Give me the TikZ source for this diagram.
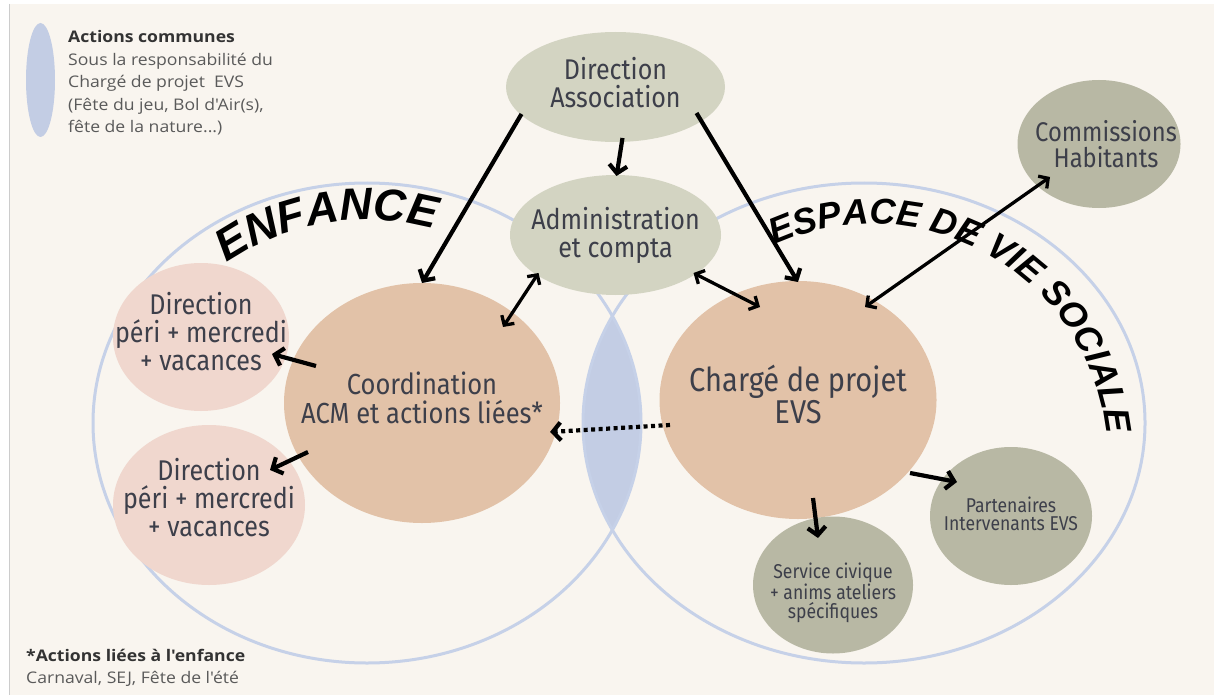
\documentclass[tikz,border=0pt]{standalone}
\usepackage{fontspec}
\setmainfont{Fira Sans}[FakeStretch=0.88]
\newfontfamily\legendfont{Open Sans}[FakeStretch=1.1]
\newfontfamily\titlefont{Liberation Sans}
\usetikzlibrary{shapes.geometric,arrows.meta,decorations.text,calc}
\definecolor{bg}{HTML}{F9F5EF}
\definecolor{ring}{HTML}{C6D1E8}
\definecolor{lens}{HTML}{C3CDE4}
\definecolor{sage}{HTML}{D3D4C2}
\definecolor{olive}{HTML}{B8B8A4}
\definecolor{tan}{HTML}{E2C2A8}
\definecolor{rose}{HTML}{F0D7CE}
\definecolor{txt}{HTML}{3D3F4A}
\definecolor{legtitle}{HTML}{333333}
\definecolor{legbody}{HTML}{5A5A5A}
\tikzset{
  bubble/.style={ellipse, inner sep=0pt},
  lbl/.style={inner sep=0pt, text=txt, align=center},
  bigfont/.style={font=\fontsize{28.5}{28}\selectfont},
  hugefont/.style={font=\fontsize{33}{32}\selectfont},
  smallfont/.style={font=\fontsize{20}{18.5}\selectfont},
  arr/.style={line width=4.2pt, -{Straight Barb[length=8pt,width=18pt]}},
  darr/.style={line width=3.3pt, {Straight Barb[length=7pt,width=15pt]}-{Straight Barb[length=7pt,width=15pt]}},
  dotarr/.style={line width=4.2pt, dash pattern=on 4pt off 3.5pt, -{Straight Barb[length=8pt,width=18pt]}},
  ringline/.style={draw=ring, line width=3pt},
  legt/.style={anchor=base west, inner sep=0pt, text=legtitle, font=\legendfont\bfseries\fontsize{16}{18}\selectfont},
  legb/.style={anchor=base west, inner sep=0pt, text=legbody, font=\legendfont\fontsize{16}{18}\selectfont},
}
\begin{document}
\begin{tikzpicture}[x=1pt,y=-1pt]
\useasboundingbox (0,0) rectangle (1214,695);
\fill[white] (0,0) rectangle (1214,695);
\fill[bg] (9,4) rectangle (1214,695);
\draw[black!20, line width=1pt] (9,4) -- (9,695);

% big sets
\coordinate (LE) at (367,423);
\coordinate (RE) at (864,423);
\begin{scope}
  \clip (LE) ellipse [x radius=274pt, y radius=240pt];
  \fill[lens] (RE) ellipse [x radius=281pt, y radius=240pt];
\end{scope}
\draw[ringline] (LE) ellipse [x radius=274pt, y radius=240pt];
\draw[ringline] (RE) ellipse [x radius=281pt, y radius=240pt];

% curved titles
\path[decorate, decoration={text along path, text align=left,
  text={|\titlefont\fontsize{45}{45}\selectfont\bfseries\itshape|ENFANCE}}]
  (LE) ++(128:228pt and 203pt) arc [start angle=128, end angle=58, x radius=228pt, y radius=203pt];
\coordinate (EC) at (872,460);
\path[decorate, decoration={text along path, text align=left,
  text={|\titlefont\fontsize{36}{36}\selectfont\bfseries\itshape|ESPACE DE VIE SOCIALE}}]
  (EC) ++(114.5:236pt) arc [start angle=114.5, end angle=-12, radius=236pt];

% legend
\node[fill=lens, ellipse, minimum width=29pt, minimum height=114pt, inner sep=0pt] (leg) at (40.5,80) {};
\node[legt] (l1) at (68,43) {Actions communes};
\node[legb] (l2) at (68,65.5) {Sous la responsabilité du};
\node[legb] (l3) at (68,88) {Chargé de projet\ \ EVS};
\node[legb] (l4) at (68,110.5) {(Fête du jeu, Bol d'Air(s),};
\node[legb] (l5) at (68,133) {fête de la nature...)};
\node[legt] (b1) at (26,661) {*Actions liées à l'enfance};
\node[legb] (b2) at (26,683) {Carnaval, SEJ, Fête de l'été};

% bubbles
\node[bubble, fill=sage, minimum width=219pt, minimum height=110pt] (DA) at (615.5,87) {};
\node[bubble, fill=sage, minimum width=211pt, minimum height=120pt] (AD) at (615.5,235) {};
\node[bubble, fill=olive, minimum width=163pt, minimum height=128pt] (CO) at (1099,144) {};
\node[bubble, fill=tan, minimum width=276pt, minimum height=240pt] (CD) at (422,403) {};
\node[bubble, fill=tan, minimum width=277pt, minimum height=238pt] (CH) at (798,400) {};
\node[bubble, fill=rose, minimum width=176pt, minimum height=148pt] (D1) at (201,337) {};
\node[bubble, fill=rose, minimum width=192pt, minimum height=160pt] (D2) at (209,505) {};
\node[bubble, fill=olive, minimum width=160pt, minimum height=137pt] (SC) at (833,585) {};
\node[bubble, fill=olive, minimum width=162pt, minimum height=138pt] (PA) at (1011,516) {};

% bubble texts
\node[lbl, bigfont] (DAt) at ($(DA)+(0,-4)$) {Direction\\Association};
\node[lbl, bigfont] (ADt) at ($(AD)+(0,0)$) {Administration\\et compta};
\node[lbl, font=\fontsize{27}{26}\selectfont] (COt) at ($(CO)+(7,0)$) {Commissions\\Habitants};
\node[lbl, font=\fontsize{29}{29}\selectfont] (CDt) at ($(CD)+(0,-5)$) {Coordination\\ACM et actions liées*};
\node[lbl, hugefont] (CHt) at ($(CH)+(0,-6)$) {Chargé de projet\\EVS};
\node[lbl, bigfont] (D1t) at ($(D1)+(0,-5)$) {Direction\\péri + mercredi\\+ vacances};
\node[lbl, bigfont] (D2t) at ($(D2)+(0,-7)$) {Direction\\péri + mercredi\\+ vacances};
\node[lbl, smallfont] (SCt) at ($(SC)+(0,8)$) {Service civique\\+ anims ateliers\\spécifiques};
\node[lbl, smallfont] (PAt) at ($(PA)+(0,-2)$) {Partenaires\\Intervenants EVS};

% connectors
\draw[arr] ($(DA)+(-94,27)$) -- ($(CD)+(0,-120)$);
\draw[arr] ($(DA)+(7,51)$) -- ($(AD)+(1,-59)$);
\draw[arr] ($(DA)+(81,26)$) -- ($(CH)+(0,-118)$);
\draw[darr] ($(AD)+(-77,38)$) -- ($(CD)+(81,-76)$);
\draw[darr] ($(AD)+(78,38)$) -- ($(CH)+(-38,-93)$);
\draw[darr] ($(CO)+(-49,33)$) -- ($(CH)+(67,-93)$);
\draw[arr] ($(CD)+(-106,-37)$) -- ($(D1)+(71,17)$);
\draw[arr] ($(CD)+(-114,49)$) -- ($(D2)+(61,-35)$);
\draw[dotarr] ($(CH)+(-128,25)$) -- ($(CD)+(128,29)$);
\draw[arr] ($(CH)+(15,98)$) -- ($(SC)+(-15,-47)$);
\draw[arr] ($(CH)+(112,73)$) -- ($(PA)+(-54,-34)$);
\end{tikzpicture}
\end{document}
